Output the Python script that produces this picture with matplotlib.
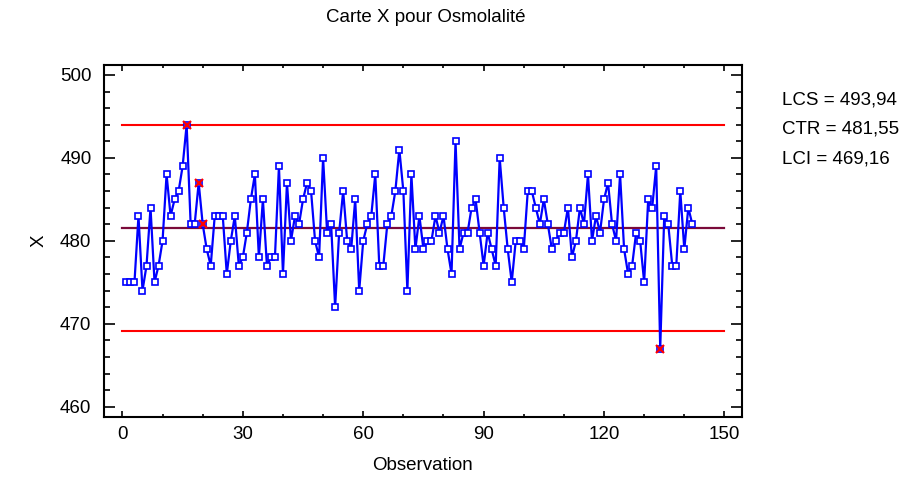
import matplotlib.pyplot as plt
from matplotlib.ticker import MultipleLocator

plt.rcParams['font.family'] = ['Liberation Sans', 'DejaVu Sans']

# osmolalité, une valeur par observation
osmo = [475, 475, 475, 483, 474, 477, 484, 475, 477, 480, 488, 483, 485, 486, 489, 494, 482, 482, 487, 482,
        479, 477, 483, 483, 483, 476, 480, 483, 477, 478, 481, 485, 488, 478, 485, 477, 478, 478, 489, 476,
        487, 480, 483, 482, 485, 487, 486, 480, 478, 490, 481, 482, 472, 481, 486, 480, 479, 485, 474, 480,
        482, 483, 488, 477, 477, 482, 483, 486, 491, 486, 474, 488, 479, 483, 479, 480, 480, 483, 481, 483,
        479, 476, 492, 479, 481, 481, 484, 485, 481, 477, 481, 479, 477, 490, 484, 479, 475, 480, 480, 479,
        486, 486, 484, 482, 485, 482, 479, 480, 481, 481, 484, 478, 480, 484, 482, 488, 480, 483, 481, 485,
        487, 482, 480, 488, 479, 476, 477, 481, 480, 475, 485, 484, 489, 467, 483, 482, 477, 477, 486, 479,
        484, 482]
obs = list(range(1, len(osmo) + 1))

# limites de contrôle
lcs = 493.94
ctr = 481.55
lci = 469.16

# points signalés en rouge
alertes = [16, 19, 20, 134]

fs = 13.5

fig = plt.figure(figsize=(9.16, 4.84), dpi=100)
ax = fig.add_axes([0.1135, 0.1378, 0.6962, 0.7279])

ax.plot([0, 150], [lcs, lcs], color='#ff0000', lw=1.5)
ax.plot([0, 150], [lci, lci], color='#ff0000', lw=1.5)
ax.plot([0, 150], [ctr, ctr], color='#7a0a3a', lw=1.6)

ax.plot(obs, osmo, color='#0000ff', lw=1.6, marker='s', ms=3.8,
        mfc='white', mec='#0000ff', mew=1.2)
ax.plot(alertes, [osmo[i - 1] for i in alertes], ls='none', marker='x',
        ms=5.5, mec='#ff0000', mew=1.6)

ax.set_xlim(-4.6, 154.3)
ax.set_ylim(458.72, 501.2)
ax.xaxis.set_major_locator(MultipleLocator(30))
ax.xaxis.set_minor_locator(MultipleLocator(10))
ax.yaxis.set_major_locator(MultipleLocator(10))
ax.yaxis.set_minor_locator(MultipleLocator(2))

ax.tick_params(axis='both', which='both', direction='in', top=True, right=True,
               labelsize=fs, width=1.2)
ax.tick_params(axis='y', which='major', length=8, pad=9)
ax.tick_params(axis='y', which='minor', length=4.5)
ax.tick_params(axis='x', which='major', length=4, pad=6)
ax.tick_params(axis='x', which='minor', length=2)
for s in ax.spines.values():
    s.set_linewidth(1.5)

ax.set_xlabel('Observation', fontsize=fs, labelpad=10)
ax.set_ylabel('X', fontsize=fs, labelpad=9)
fig.text(426 / 916, 1 - 17 / 484, 'Carte X pour Osmolalité', fontsize=fs,
         ha='center', va='center')

fig.text(782 / 916, 1 - 100 / 484, 'LCS = 493,94', fontsize=fs, va='center')
fig.text(782 / 916, 1 - 129 / 484, 'CTR = 481,55', fontsize=fs, va='center')
fig.text(782 / 916, 1 - 159 / 484, 'LCI = 469,16', fontsize=fs, va='center')

plt.savefig('out.png', dpi=100)
